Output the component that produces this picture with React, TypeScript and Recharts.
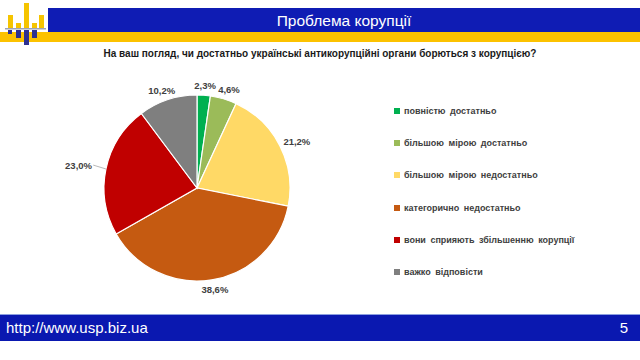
import { PieChart, Pie, Cell, Legend } from 'recharts';

const categories = [
  'повністю достатньо',
  'більшою мірою достатньо',
  'більшою мірою недостатньо',
  'категорично недостатньо',
  'вони сприяють збільшенню корупції',
  'важко відповісти',
];
const shares = [2.3, 4.6, 21.2, 38.6, 23.0, 10.2];
const COLORS = ['#00b050', '#9bbb59', '#ffd966', '#c55a11', '#c00000', '#7f7f7f'];

const TITLE = 'Проблема корупції';
const QUESTION = 'На ваш погляд, чи достатньо українські антикорупційні органи борються з корупцією?';
const SITE = 'http://www.usp.biz.ua';
const PAGE = '5';

const data = categories.map((name, i) => ({ name, value: shares[i] }));

const fmt = (v: number) => v.toFixed(1).replace('.', ',') + '%';

const RAD = Math.PI / 180;

const renderLabel = (props: any) => {
  const { cx, cy, midAngle, outerRadius, index, value } = props;
  const c = Math.cos(-midAngle * RAD);
  const s = Math.sin(-midAngle * RAD);
  // the 23,0% label sits a bit further out with a leader line, like the original
  const extra = index === 4 ? 9 : 0;
  const d = outerRadius + 5 + extra;
  const x = cx + d * c + 14 * c;
  const y = cy + d * s + 5 * s;
  return (
    <g>
      {extra > 0 && (
        <line
          x1={cx + outerRadius * c}
          y1={cy + outerRadius * s}
          x2={x + 15 * -c}
          y2={y}
          stroke="#a6a6a6"
          strokeWidth={0.8}
        />
      )}
      <text
        x={x}
        y={y}
        textAnchor="middle"
        dominantBaseline="central"
        fill="#404040"
        fontSize={9.5}
        fontWeight="bold"
        fontFamily="'Liberation Sans', Arial, sans-serif"
      >
        {fmt(value)}
      </text>
    </g>
  );
};

const LegendList = (props: any) => {
  const { payload } = props;
  return (
    <div>
      {(payload || []).map((entry: any, i: number) => (
        <div
          key={`leg-${i}`}
          style={{
            height: 32.2,
            display: 'flex',
            alignItems: 'center',
            fontFamily: "'Liberation Sans', Arial, sans-serif",
            fontSize: 9,
            fontWeight: 'bold',
            color: '#404040',
            wordSpacing: 2,
          }}
        >
          <span style={{ width: 6, height: 6, background: entry.color, marginRight: 4, display: 'inline-block' }} />
          {entry.value}
        </div>
      ))}
    </div>
  );
};

const Logo = () => (
  <svg width={48} height={48} style={{ position: 'absolute', left: 0, top: 0 }}>
    <rect x={8} y={15} width={5} height={13} fill="#f5c400" />
    <rect x={16} y={23} width={5} height={5} fill="#f5c400" />
    <rect x={24} y={3} width={5} height={25} fill="#f5c400" />
    <rect x={32} y={23} width={5} height={5} fill="#f5c400" />
    <rect x={39} y={15} width={5} height={13} fill="#f5c400" />
    <rect x={5} y={28} width={41} height={1.5} fill="#9ea3b5" />
    <rect x={8} y={30} width={4} height={4} fill="#2e3192" />
    <rect x={16} y={30} width={5} height={8} fill="#2e3192" />
    <rect x={24} y={30} width={5} height={15} fill="#2e3192" />
    <rect x={32} y={30} width={5} height={8} fill="#2e3192" />
  </svg>
);

const App = () => {
  return (
    <div style={{ position: 'absolute', left: 0, top: 0, width: 640, height: 360, background: '#fff', overflow: 'hidden' }}>
      <div style={{ position: 'absolute', left: 0, top: 32, width: 640, height: 10, background: '#fcc200' }} />
      <div
        style={{
          position: 'absolute',
          left: 48,
          top: 8,
          width: 592,
          height: 24,
          background: '#0f1cb4',
          color: '#fff',
          fontFamily: "'Liberation Sans', Arial, sans-serif",
          fontSize: 15.5,
          lineHeight: '25px',
          textAlign: 'center',
        }}
      >
        {TITLE}
      </div>
      <Logo />
      <div
        style={{
          position: 'absolute',
          left: 0,
          top: 48,
          width: 640,
          textAlign: 'center',
          fontFamily: "'Liberation Sans', Arial, sans-serif",
          fontSize: 10,
          fontWeight: 'bold',
          color: '#1a1a1a',
        }}
      >
        {QUESTION}
      </div>
      <div
        style={{
          position: 'absolute',
          left: 0,
          top: 314,
          width: 640,
          height: 26,
          background: '#0a18b0',
          borderTop: '1px solid #8c9fe0',
          color: '#fff',
          fontFamily: "'Liberation Sans', Arial, sans-serif",
          fontSize: 15,
          lineHeight: '26px',
        }}
      >
        <span style={{ position: 'absolute', left: 6 }}>{SITE}</span>
        <span style={{ position: 'absolute', right: 12 }}>{PAGE}</span>
      </div>
      <div style={{ position: 'absolute', left: 0, top: 0 }}>
        <PieChart width={640} height={360} margin={{ top: 0, right: 0, bottom: 0, left: 0 }}>
          <Pie
            data={data}
            dataKey="value"
            nameKey="name"
            cx={197}
            cy={188}
            outerRadius={93}
            startAngle={90}
            endAngle={-270}
            stroke="#ffffff"
            strokeWidth={1.2}
            label={renderLabel}
            labelLine={false}
            isAnimationActive={false}
          >
            {data.map((_, index) => (
              <Cell key={`cell-${index}`} fill={COLORS[index % COLORS.length]} />
            ))}
          </Pie>
          <Legend
            layout="vertical"
            verticalAlign="top"
            align="right"
            content={LegendList}
            itemSorter={(item: any) => categories.indexOf(item.value)}
            wrapperStyle={{ left: 394, top: 95, width: 240 }}
          />
        </PieChart>
      </div>
    </div>
  );
};

export default App;
